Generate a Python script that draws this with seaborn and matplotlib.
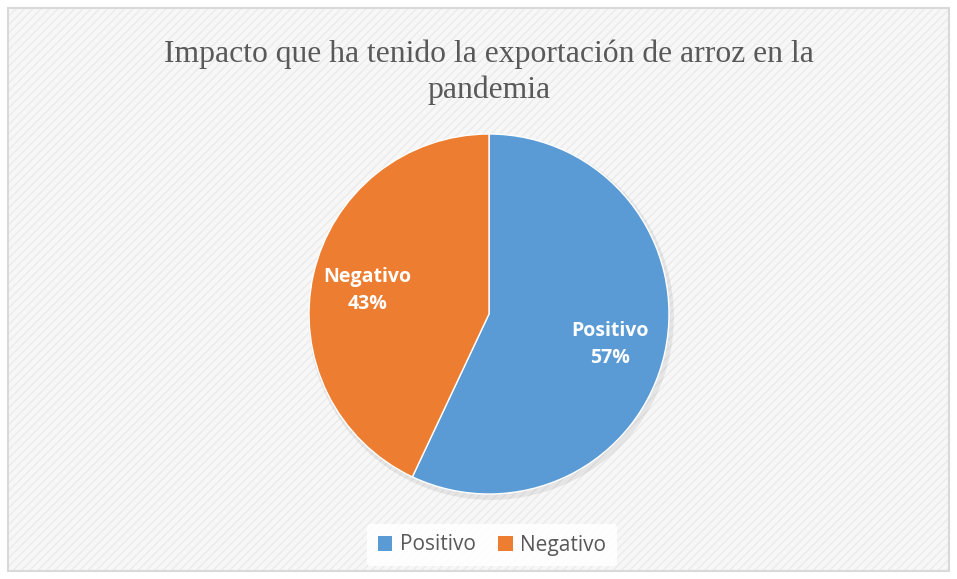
import matplotlib
matplotlib.use("Agg")
import matplotlib.pyplot as plt
import matplotlib.patches as mpatches
import numpy as np
import seaborn as sns

# Data
categories = ["Positivo", "Negativo"]
values = [57, 43]
colors = ["#5B9BD5", "#ED7D31"]
title = "Impacto que ha tenido la exportación de arroz en la\npandemia"

sns.set_theme(style="white")
plt.rcParams["font.family"] = ["Open Sans", "DejaVu Sans"]

W, H = 957, 579
fig = plt.figure(figsize=(W / 100, H / 100), dpi=100)
fig.patch.set_facecolor("white")

# chart area background with subtle pattern and border
x0, y0, x1, y1 = 8 / W, 1 - 571 / H, 949 / W, 1 - 8 / H
bg = mpatches.Rectangle((x0, y0), x1 - x0, y1 - y0, transform=fig.transFigure,
                        facecolor="#f7f7f7", edgecolor="#ebebeb", hatch="////",
                        linewidth=0, zorder=-5)
fig.patches.append(bg)
border = mpatches.Rectangle((x0, y0), x1 - x0, y1 - y0, transform=fig.transFigure,
                            facecolor="none", edgecolor="#d9d9d9", linewidth=1.5, zorder=-4)
fig.patches.append(border)

# Title
fig.text(489 / W, 1 - 72 / H, title, ha="center", va="center", fontsize=22.8,
         family="Liberation Serif", color="#595959", linespacing=1.28)

# Pie axes: center (489, 314), radius 180 px
cx, cy, r = 489 / W, 1 - 314 / H, 180
ax = fig.add_axes([cx - r / W, cy - r / H, 2 * r / W, 2 * r / H])
ax.set_axis_off()
ax.patch.set_alpha(0)

# soft shadow
shadow = mpatches.Circle((0.012, -0.018), 1.015, facecolor="#000000", alpha=0.07,
                         edgecolor="none", zorder=0, clip_on=False)
ax.add_patch(shadow)

wedges, _ = ax.pie(values, colors=colors, startangle=90, counterclock=False,
                   wedgeprops=dict(edgecolor="white", linewidth=1.0), radius=1)
for w in wedges:
    w.set_zorder(2)
    w.set_clip_on(False)
total = sum(values)
for w, cat, v in zip(wedges, categories, values):
    ang = np.deg2rad((w.theta1 + w.theta2) / 2)
    d = 0.69
    ax.text(d * np.cos(ang), d * np.sin(ang) - 0.02, f"{cat}\n{round(100 * v / total)}%",
            ha="center", va="center", color="white", fontsize=14, fontweight="bold",
            linespacing=1.5, zorder=3)
ax.set_xlim(-1, 1)
ax.set_ylim(-1, 1)
ax.set_aspect("equal")

# Legend
handles = [mpatches.Patch(facecolor=c, edgecolor="none") for c in colors]
leg = fig.legend(handles, categories, loc="center", bbox_to_anchor=(492 / W, 1 - 545 / H),
                 ncol=2, frameon=True, fontsize=15, handlelength=0.7, handleheight=0.7,
                 handletextpad=0.35, columnspacing=1.1, borderpad=0.5)
leg.get_frame().set_facecolor("white")
leg.get_frame().set_edgecolor("none")
leg.get_frame().set_alpha(0.9)
for t in leg.get_texts():
    t.set_color("#595959")

fig.savefig("out.png", dpi=100)
